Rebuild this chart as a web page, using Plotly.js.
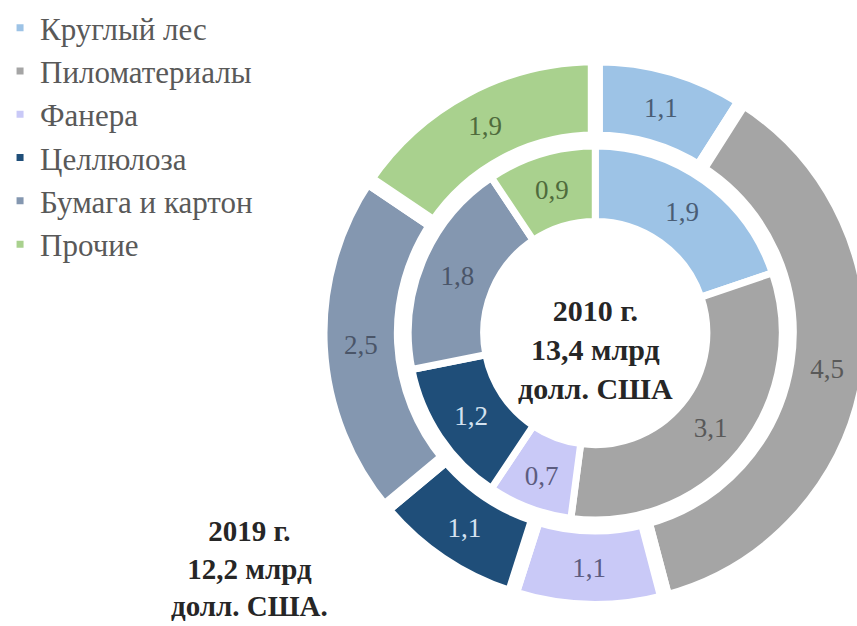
<!DOCTYPE html>
<html>
<head>
<meta charset="utf-8">
<script src="https://cdn.plot.ly/plotly-3.0.1.min.js"></script>
<style>
  html, body { margin: 0; padding: 0; overflow: hidden; background: #fff; }
  #chart { width: 880px; height: 626px; }
</style>
</head>
<body>
<div id="chart"></div>
<script>
// ---- data ----
const categories = ["Круглый лес", "Пиломатериалы", "Фанера", "Целлюлоза", "Бумага и картон", "Прочие"];
const values2010 = [1.9, 3.1, 0.7, 1.2, 1.8, 0.9];   // inner ring
const values2019 = [1.1, 4.5, 1.1, 1.1, 2.5, 1.9];   // outer ring
const sliceColors = ["#9DC3E6", "#A5A5A5", "#C9C9F7", "#1F4E79", "#8497B0", "#A9D18E"];
const labelColors = ["#4A5D75", "#595959", "#5C5C80", "#D4E2F0", "#4A5568", "#4F6B3C"];
const centerText2010 = "2010 г.<br>13,4 млрд<br>долл. США";
const cornerText2019 = "2019 г.<br>12,2 млрд<br>долл. США.";

// ---- geometry (pixels) ----
const W = 880, H = 626;
const cx = 593, cyTop = 333;          // pie centre, from top-left
const cy = H - cyTop;                  // from bottom
const outerLine = 15, innerLine = 7;
const outerR = 270 + outerLine / 2, outerHoleR = 203 - outerLine / 2;
const innerR = 185 + innerLine / 2, innerHoleR = 116 - innerLine / 2;

function dom(r) {
  return {
    x: [(cx - r) / W, (cx + r) / W],
    y: [(cy - r) / H, (cy + r) / H]
  };
}

const serif = '"Liberation Serif", "DejaVu Serif", serif';

const outer = {
  type: "pie",
  name: "2019",
  labels: categories,
  values: values2019,
  sort: false,
  direction: "clockwise",
  rotation: 0,
  hole: outerHoleR / outerR,
  domain: dom(outerR),
  marker: { colors: sliceColors, line: { color: "#ffffff", width: outerLine } },
  texttemplate: "%{value:.1f}",
  textposition: "inside",
  insidetextorientation: "horizontal",
  textfont: { family: serif, size: 27, color: labelColors },
  hoverinfo: "label+value",
  showlegend: true
};

const inner = {
  type: "pie",
  name: "2010",
  labels: categories,
  values: values2010,
  sort: false,
  direction: "clockwise",
  rotation: 0,
  hole: innerHoleR / innerR,
  domain: dom(innerR),
  marker: { colors: sliceColors, line: { color: "#ffffff", width: innerLine } },
  texttemplate: "%{value:.1f}",
  textposition: "inside",
  insidetextorientation: "horizontal",
  textfont: { family: serif, size: 27, color: labelColors },
  hoverinfo: "label+value",
  showlegend: false
};

const layout = {
  width: W,
  height: H,
  margin: { l: 0, r: 0, t: 0, b: 0 },
  paper_bgcolor: "#ffffff",
  separators: ", ",
  showlegend: true,
  legend: {
    x: -7 / W, y: 1 - 1 / H, xanchor: "left", yanchor: "top",
    font: { family: serif, size: 31, color: "#595959" },
    traceorder: "normal",
    bgcolor: "rgba(0,0,0,0)"
  },
  annotations: [
    {
      text: "<b>" + centerText2010.split("<br>").join("</b><br><b>") + "</b>",
      x: cx / W, y: (H - 349) / H, xref: "paper", yref: "paper",
      xanchor: "center", yanchor: "middle", showarrow: false,
      font: { family: serif, size: 30, color: "#262626" }
    },
    {
      text: "<b>" + cornerText2019.split("<br>").join("</b><br><b>") + "</b>",
      x: 244 / W, y: (H - 568) / H, xref: "paper", yref: "paper",
      xanchor: "center", yanchor: "middle", showarrow: false,
      font: { family: serif, size: 29, color: "#262626" }
    }
  ]
};

Plotly.newPlot("chart", [outer, inner], layout, { displayModeBar: false, staticPlot: true });
</script>
</body>
</html>
